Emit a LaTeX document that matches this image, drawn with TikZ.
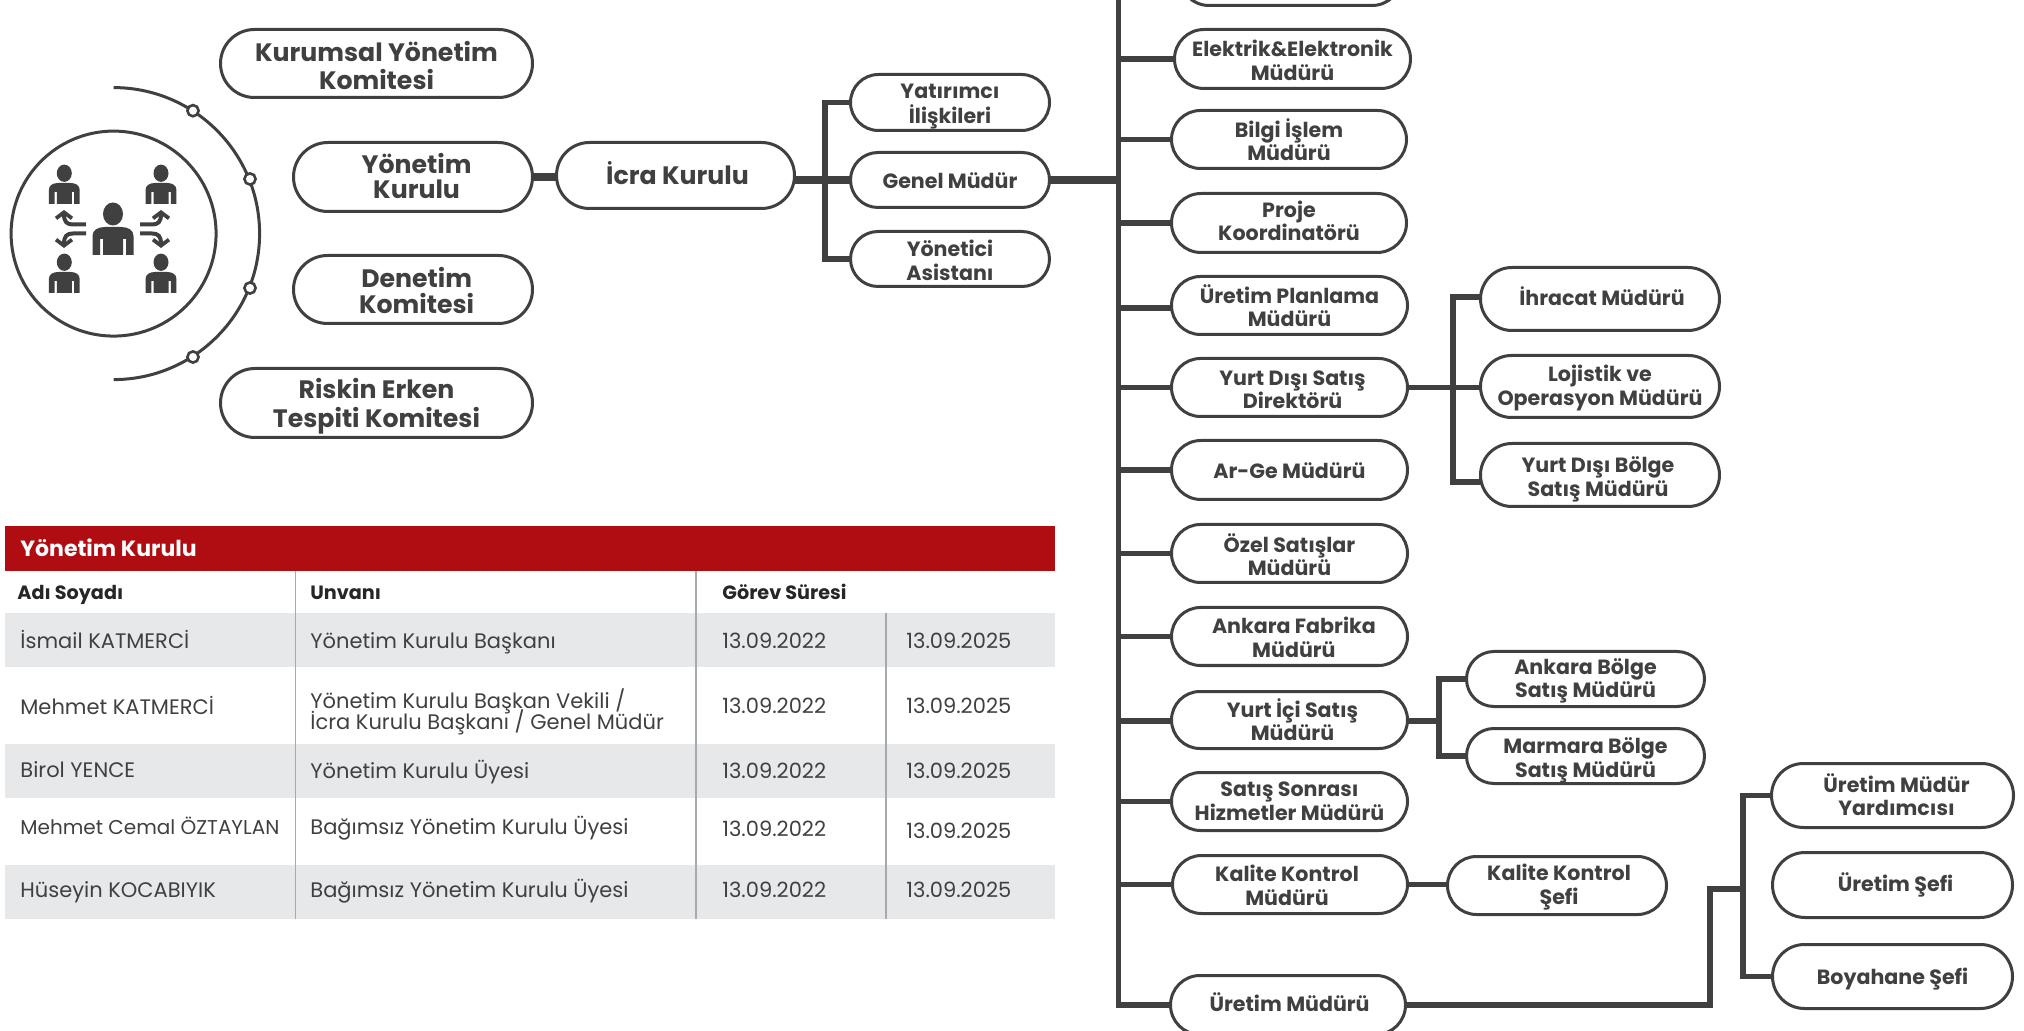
\documentclass[tikz,border=0pt]{standalone}
\usepackage{fontspec}
\setmainfont{Poppins}[BoldFont={Poppins Bold}]
\usetikzlibrary{shapes.misc,arrows.meta,calc}
\definecolor{ink}{HTML}{404041}
\definecolor{rowgray}{HTML}{E7E8EA}
\definecolor{hdrred}{HTML}{B00D13}
\definecolor{rule}{HTML}{A7A9AC}
\tikzset{
  pillbase/.style={rounded rectangle,draw=ink,line width=1.5pt,fill=white,inner sep=0pt,outer sep=0pt,align=center,text=ink,font=\bfseries},
  pillS/.style={pillbase,font=\fontsize{10.3}{11.6}\selectfont\bfseries},
  pillL/.style={pillbase,font=\fontsize{12.6}{14}\selectfont\bfseries},
  conn/.style={draw=ink,line width=2.8pt,line cap=butt,line join=miter},
  connT/.style={draw=ink,line width=4pt,line cap=butt},
  cell/.style={anchor=base west,inner sep=0pt,text=ink,font=\fontsize{10.5}{10.8}\selectfont,align=left},
  cellnarrow/.style={cell,font=\fontsize{10}{10.8}\selectfont},
  headcell/.style={anchor=base west,inner sep=0pt,text=black!85,font=\fontsize{9.6}{11}\selectfont\bfseries},
  ring/.style={draw=ink,line width=1.3pt,fill=white,circle,minimum size=5.6pt,inner sep=0pt},
  iconarrow/.style={draw=ink,line width=2pt,-{Straight Barb[length=3pt,width=8pt,line width=1.9pt]}},
  personstyle/.style={fill=ink}
}
\newcommand{\pilltext}[3]{\raisebox{\dimexpr #2-0.35em\relax}[0pt][0pt]{\makebox[0pt]{\hspace*{\dimexpr 2\dimexpr #1\relax\relax}\begin{tabular}{@{}c@{}}#3\end{tabular}}}}
\newcommand{\pill}[7]{\pillx{0pt}{0pt}{#1}{#2}{#3}{#4}{#5}{#6}{#7}}
\newcommand{\pillx}[9]{%
  \pgfmathsetmacro{\pw}{(#7-#5-1)*0.5}%
  \pgfmathsetmacro{\ph}{(#8-#6-1)*0.5}%
  \node[#4,minimum width=\pw pt,minimum height=\ph pt] (#3) at ({(#5+#7)/2},{(#6+#8)/2}) {\pilltext{#1}{#2}{#9}};}
\newcommand{\person}[3]{%
  \begin{scope}[shift={(#1,#2)},scale=#3]
    \fill[personstyle] (0,-13) ellipse [x radius=10,y radius=11.5];
    \fill[personstyle] (-20.5,28) -- (-20.5,9) .. controls (-20.5,3) and (-15,0) .. (-8,0) -- (8,0) .. controls (15,0) and (20.5,3) .. (20.5,9) -- (20.5,28) -- (13,28) -- (13,12) -- (10,12) -- (10,28) -- (-10,28) -- (-10,12) -- (-13,12) -- (-13,28) -- cycle;
  \end{scope}}
\begin{document}
\begin{tikzpicture}[x=0.5pt,y=-0.5pt]
\useasboundingbox (0,0) rectangle (2024,1031);
\clip (0,0) rectangle (2024,1031);
\fill[white] (0,0) rectangle (2024,1031);

% icon
\node[circle,draw=ink,line width=1.5pt,minimum size=102.5pt,inner sep=0pt] (hub) at (113.6,233.6) {};
\coordinate (arcTop) at (113.6,87.6);
\draw[ink,line width=1.5pt] (arcTop) arc[start angle=-90,end angle=90,radius=146];
\node[ring] (d1) at (193,110.7) {};
\node[ring] (d2) at (250,179) {};
\node[ring] (d3) at (250,288) {};
\node[ring] (d4) at (193,357) {};
\person{113}{227}{1}
\person{64.3}{183}{0.75}
\person{161}{183}{0.75}
\person{64.3}{272}{0.75}
\person{161}{272}{0.75}
\draw[iconarrow] (86,224.5) -- (73,224.5) .. controls (67,224.5) and (64,222) .. (64,210);
\draw[iconarrow] (86,233.5) -- (73,233.5) .. controls (67,233.5) and (64,236) .. (64,248);
\draw[iconarrow] (140,224.5) -- (152,224.5) .. controls (158,224.5) and (161,222) .. (161,210);
\draw[iconarrow] (140,233.5) -- (152,233.5) .. controls (158,233.5) and (161,236) .. (161,248);

% coordinates of the trunks
\coordinate (busTop) at (1118.5,-5);
\coordinate (busBot) at (1118.5,1008);
\coordinate (execBus) at (825,102);
\coordinate (expBus) at (1453,297);
\coordinate (domBus) at (1439,679);
\coordinate (prodBus) at (1743,796);
\coordinate (prodElbow) at (1710,889);

% connectors
\draw[conn] (busTop) -- (busBot);

% left pills
\pillx{0pt}{-1.6pt}{kurumsal}{pillL}{220}{29}{533}{98}{Kurumsal Yönetim\\Komitesi}
\pillx{1.8pt}{0pt}{yonetim}{pillL}{293}{142}{533}{212}{Yönetim\\[-1.5pt]Kurulu}
\pillx{1.8pt}{-1pt}{denetim}{pillL}{293}{255}{533}{324}{Denetim\\[-1.5pt]Komitesi}
\pillx{0pt}{-0.6pt}{riskin}{pillL}{220}{368}{533}{438}{Riskin Erken\\Tespiti Komitesi}
\pillx{1pt}{0.6pt}{icra}{pillL}{556}{142}{795}{209}{İcra Kurulu}
\pillx{0pt}{-0.7pt}{yatirimci}{pillS}{850}{74}{1050}{131}{Yatırımcı\\[-0.6pt]İlişkileri}
\pillx{0pt}{-0.6pt}{genel}{pillS}{850}{152}{1050}{208}{Genel Müdür}
\pillx{0pt}{-1.3pt}{asistan}{pillS}{850}{231}{1050}{287}{Yönetici\\Asistanı}

% right column
\pill{topbox}{pillS}{1179}{-54}{1402}{6}{}
\pillx{0pt}{-1.3pt}{elektrik}{pillS}{1174}{29}{1411}{89}{Elektrik\&Elektronik\\Müdürü}
\pillx{0pt}{-0.8pt}{bilgi}{pillS}{1171}{110}{1407}{169}{Bilgi İşlem\\Müdürü}
\pillx{0pt}{0.6pt}{proje}{pillS}{1171}{193}{1407}{253}{Proje\\Koordinatörü}
\pillx{0pt}{-0.6pt}{planlama}{pillS}{1171}{276}{1408}{335}{Üretim Planlama\\Müdürü}
\pillx{1.5pt}{-1.3pt}{disdir}{pillS}{1171}{358}{1408}{417}{Yurt Dışı Satış\\Direktörü}
\pillx{0pt}{-0.6pt}{arge}{pillS}{1171}{440}{1408}{500}{Ar-Ge Müdürü}
\pillx{0pt}{-1.3pt}{ozel}{pillS}{1171}{524}{1408}{583}{Özel Satışlar\\Müdürü}
\pillx{2.2pt}{-1pt}{ankfab}{pillS}{1171}{607}{1408}{666}{Ankara Fabrika\\Müdürü}
\pillx{1.5pt}{-0.6pt}{ici}{pillS}{1171}{691}{1408}{749}{Yurt İçi Satış\\Müdürü}
\pill{sonra}{pillS}{1171}{772}{1408}{831}{Satış Sonrası\\Hizmetler Müdürü}
\pillx{-1.5pt}{-1pt}{kalite}{pillS}{1172}{855}{1408}{914}{Kalite Kontrol\\Müdürü}
\pillx{0.8pt}{0.6pt}{uretim}{pillS}{1170}{975}{1406}{1035}{Üretim Müdürü}
\pillx{1pt}{0.6pt}{ihracat}{pillS}{1480}{267}{1720}{331}{İhracat Müdürü}
\pill{lojistik}{pillS}{1480}{355}{1720}{418}{Lojistik ve\\Operasyon Müdürü}
\pillx{-1pt}{-1.3pt}{disbolge}{pillS}{1480}{443}{1720}{507}{Yurt Dışı Bölge\\Satış Müdürü}
\pill{ankbolge}{pillS}{1466}{651}{1705}{707}{Ankara Bölge\\Satış Müdürü}
\pillx{0pt}{-1.3pt}{marmara}{pillS}{1466}{728}{1705}{784}{Marmara Bölge\\Satış Müdürü}
\pillx{1pt}{0pt}{kalsef}{pillS}{1447}{856}{1667}{915}{Kalite Kontrol\\Şefi}
\pillx{2pt}{0pt}{yardimci}{pillS}{1771}{763}{2014}{828}{Üretim Müdür\\Yardımcısı}
\pillx{1.5pt}{0.6pt}{uresef}{pillS}{1772}{852}{2013}{918}{Üretim Şefi}
\pillx{0pt}{-0.6pt}{boya}{pillS}{1772}{944}{2013}{1009}{Boyahane Şefi}

% top group connectors
\draw[connT] (yonetim.east) -- (yonetim.east -| icra.west);
\draw[connT] (genel.west -| icra.east) -- (genel.west);
\draw[connT] (genel.east) -- (genel.east -| busTop);
\draw[conn] (yatirimci.west) -- (yatirimci.west -| execBus) -- (asistan.west -| execBus) -- (asistan.west);

% branches off the main trunk
\foreach \n in {elektrik,bilgi,proje,disdir,arge,ozel,ankfab,kalite,sonra}{
  \draw[conn] (\n.west) -- (\n.west -| busTop);}
\draw[conn] ([yshift=-1.2pt]planlama.west) -- ([yshift=-1.2pt]planlama.west -| busTop);
\draw[conn] ([yshift=-0.6pt]ici.west) -- ([yshift=-0.6pt]ici.west -| busTop);
\draw[conn] (uretim.west) -- (uretim.west -| busBot);

% export group
\draw[conn] (disdir.east) -- (disdir.east -| lojistik.west);
\draw[conn] ([yshift=1pt]ihracat.west) -- ([yshift=1pt]ihracat.west -| expBus) -- ([yshift=-3.5pt]disbolge.west -| expBus) -- ([yshift=-3.5pt]disbolge.west);
% domestic group
\coordinate (iciOut) at ([yshift=-0.6pt]ici.east);
\draw[conn] (iciOut) -- (iciOut -| domBus);
\draw[conn] (ankbolge.west) -- (ankbolge.west -| domBus) -- (marmara.west -| domBus) -- (marmara.west);
\draw[conn] (kalite.east) -- (kalite.east -| kalsef.west);
% production group
\draw[conn] (uretim.east) -- (uretim.east -| prodElbow) -- (prodElbow) -- (prodBus |- prodElbow);
\draw[conn] (yardimci.west) -- (prodBus |- yardimci.west) -- (prodBus |- boya.west) -- (boya.west);

% table
\fill[hdrred] (5,526) rectangle (1055,571);
\fill[rowgray] (5,613) rectangle (1055,667);
\fill[rowgray] (5,744) rectangle (1055,798);
\fill[rowgray] (5,865) rectangle (1055,919);
\draw[rule,line width=0.6pt] (295.5,571) -- (295.5,919);
\draw[rule,line width=0.6pt] (696,571) -- (696,919);
\draw[rule,line width=0.6pt] (886,613) -- (886,919);
\node[anchor=base west,inner sep=0pt,text=white,font=\fontsize{11}{12}\selectfont\bfseries] (thead) at (20,556.5) {Yönetim Kurulu};
\node[headcell] (h1) at (17,600) {Adı Soyadı};
\node[headcell] (h2) at (310,600) {Unvanı};
\node[headcell] (h3) at (722,600) {Görev Süresi};

\node[cell] (r1a) at (20,648) {İsmail KATMERCİ};
\node[cell] (r1b) at (310,648) {Yönetim Kurulu Başkanı};
\node[cell] (r1c) at (722,648) {13.09.2022};
\node[cell] (r1d) at (906,648) {13.09.2025};
\node[cell] (r2a) at (20,714) {Mehmet KATMERCİ};
\node[cell] (r2b) at (310,729) {Yönetim Kurulu Başkan Vekili /\\[-3.2pt]İcra Kurulu Başkanı / Genel Müdür};
\node[cell] (r2c) at (722,713) {13.09.2022};
\node[cell] (r2d) at (906,713) {13.09.2025};
\node[cell] (r3a) at (20,777) {Birol YENCE};
\node[cell] (r3b) at (310,778) {Yönetim Kurulu Üyesi};
\node[cell] (r3c) at (722,778) {13.09.2022};
\node[cell] (r3d) at (906,778) {13.09.2025};
\node[cellnarrow] (r4a) at (20,834) {Mehmet Cemal ÖZTAYLAN};
\node[cell] (r4b) at (310,834) {Bağımsız Yönetim Kurulu Üyesi};
\node[cell] (r4c) at (722,836) {13.09.2022};
\node[cell] (r4d) at (906,838) {13.09.2025};
\node[cell] (r5a) at (20,897) {Hüseyin KOCABIYIK};
\node[cell] (r5b) at (310,897) {Bağımsız Yönetim Kurulu Üyesi};
\node[cell] (r5c) at (722,897) {13.09.2022};
\node[cell] (r5d) at (906,897) {13.09.2025};
\end{tikzpicture}
\end{document}
